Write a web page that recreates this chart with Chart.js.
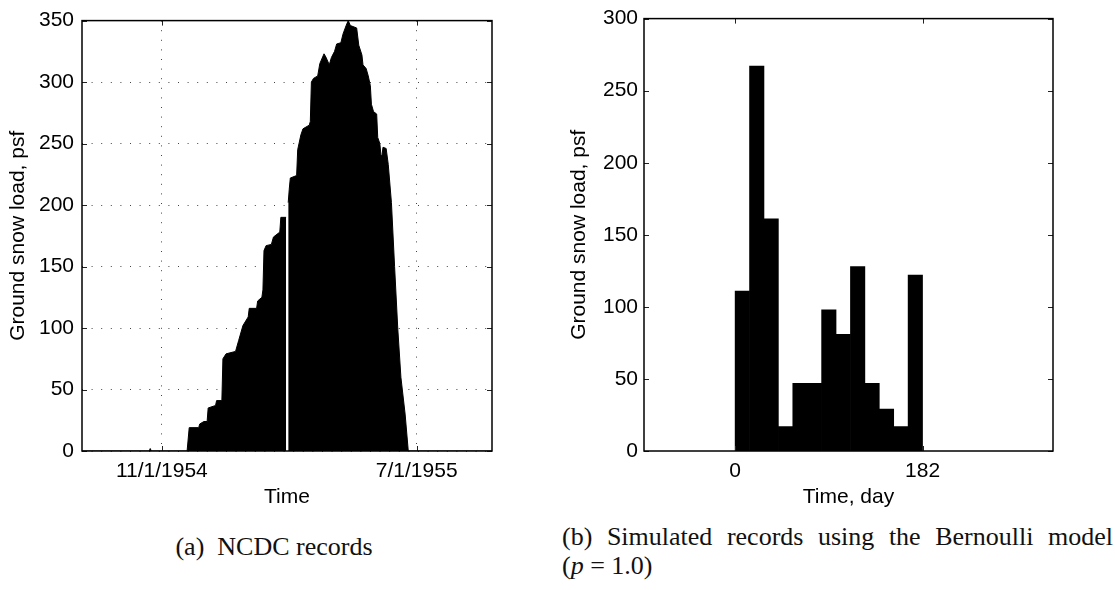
<!DOCTYPE html>
<html>
<head>
<meta charset="utf-8">
<script src="https://cdn.jsdelivr.net/npm/chart.js@4/dist/chart.umd.min.js"></script>
<style>
    body { margin: 0; background: #fff; }
    #page { position: relative; width: 1115px; height: 590px; overflow: hidden; }
    .box { position: absolute; top: 0; height: 515px; }
    .caption { position: absolute; font-family: "Liberation Serif", "Times New Roman", serif; font-size: 26px; color: #111; }
</style>
</head>
<body>
<div id="page">
    <div class="box" style="left:0; width:540px;"><canvas id="ncdcChart"></canvas></div>
    <div class="box" style="left:560px; width:555px;"><canvas id="simChart"></canvas></div>
    <div class="caption" style="left:0; width:548px; top:532px; line-height:30px; text-align:center;">(a)&nbsp; NCDC records</div>
    <div class="caption" style="left:562px; width:551px; top:522px; line-height:29px;">
        <div style="text-align:justify; text-align-last:justify;">(b) Simulated records using the Bernoulli model</div>
        <div>(<i>p</i> = 1.0)</div>
    </div>
</div>
<script>
// (a) NCDC records: day offsets from 11/1/1954 and ground snow load (psf)
const recordDays = [-76, -12, -11, -10, 24, 26, 35, 36, 40, 43, 44, 51, 52, 57, 58, 61, 70, 73, 77, 82, 83,
    90, 91, 95, 96, 97, 99, 104, 106, 112, 113, 118, 119, 120, 121, 122, 128, 129, 132, 134, 140, 141, 142,
    144, 148, 150, 154, 156, 157, 159, 161, 164, 166, 170, 172, 175, 177, 179, 185, 187, 190, 191, 194, 196,
    198, 199, 201, 204, 205, 207, 208, 209, 210, 213, 215, 218, 221, 224, 227, 231, 234, 314];
const recordLoads = [0, 0, 2, 0, 0, 19, 19, 22, 24, 24, 35, 37, 41, 41, 75, 79, 81, 90, 102, 109, 116,
    116, 122, 125, 131, 163, 167, 168, 174, 178, 190, 190, null, 202, 213, 222, 224, 245, 257, 262, 265, 268, 300,
    303, 305, 315, 323, 320, 318, 314, 320, 325, 331, 332, 339, 346, 350, 346, 344, 330, 322, 314, 311, 305,
    297, 282, 276, 274, 255, 250, 241, 240, 247, 246, 233, 202, 150, 100, 60, 30, 0, 0];
const dateTickDays = [0, 242];
const dateTickLabels = ['11/1/1954', '7/1/1955'];

// (b) simulated records, 14-day blocks (centre day) and load (psf)
const simDays = [7, 21, 35, 49, 63, 77, 91, 105, 119, 133, 147, 161, 175];
const simLoads = [111, 267, 161, 17, 47, 47, 98, 81, 128, 47, 29, 17, 122];
const dayTicks = [0, 182];

const sans = '"Liberation Sans", Arial, Helvetica, sans-serif';

// box around the plot plus MATLAB-style inward ticks
const framePlugin = {
    id: 'frame',
    afterDatasetsDraw(chart) {
        const { ctx, chartArea: a, scales: { x, y } } = chart;
        ctx.save();
        ctx.strokeStyle = '#222';
        ctx.lineWidth = 1;
        ctx.beginPath();
        y.ticks.forEach(t => {
            const py = Math.round(y.getPixelForValue(t.value)) + 0.5;
            ctx.moveTo(a.left, py); ctx.lineTo(a.left + 5, py);
            ctx.moveTo(a.right, py); ctx.lineTo(a.right - 5, py);
        });
        x.ticks.forEach(t => {
            const px = Math.round(x.getPixelForValue(t.value)) + 0.5;
            ctx.moveTo(px, a.top); ctx.lineTo(px, a.top + 5);
            ctx.moveTo(px, a.bottom); ctx.lineTo(px, a.bottom - 5);
        });
        ctx.stroke();
        ctx.strokeStyle = '#000';
        ctx.lineWidth = 1.5;
        ctx.strokeRect(a.left, a.top, a.right - a.left, a.bottom - a.top);
        ctx.restore();
    }
};

function yAxis(max, width, pad, titlePad, showGrid) {
    return {
        min: 0,
        max: max,
        afterFit: s => { s.width = width; },
        ticks: { stepSize: 50, padding: pad, color: '#000', font: { family: sans, size: 21 } },
        grid: { display: showGrid, drawTicks: false, color: '#444', lineWidth: 1 },
        border: { display: false, dash: [1, 8.6] },
        title: {
            display: true,
            text: 'Ground snow load, psf',
            color: '#000',
            font: { family: sans, size: 21 },
            padding: { top: titlePad, bottom: 0 }
        }
    };
}

function xAxis(min, max, tickValues, labels, titleText, showGrid) {
    return {
        type: 'linear',
        min: min,
        max: max,
        offset: false,
        afterFit: s => { s.height = 64; },
        afterBuildTicks: s => { s.ticks = tickValues.map(v => ({ value: v })); },
        ticks: {
            padding: 8,
            maxRotation: 0,
            autoSkip: false,
            color: '#000',
            font: { family: sans, size: 21 },
            callback: v => labels[tickValues.indexOf(v)]
        },
        grid: { display: showGrid, drawTicks: false, offset: false, color: '#444', lineWidth: 1 },
        border: { display: false, dash: [1, 8.6] },
        title: {
            display: true,
            text: titleText,
            color: '#000',
            font: { family: sans, size: 21 },
            padding: { top: 0, bottom: 5 }
        }
    };
}

document.addEventListener('DOMContentLoaded', function () {
    const ncdcConfig = {
        type: 'line',
        data: {
            datasets: [{
                data: recordDays.map((d, i) => ({ x: d, y: recordLoads[i] })),
                borderColor: '#000',
                borderWidth: 1,
                backgroundColor: '#000',
                fill: 'origin',
                pointRadius: 0,
                tension: 0,
                spanGaps: false
            }]
        },
        options: {
            responsive: true,
            maintainAspectRatio: false,
            animation: false,
            layout: { padding: { left: 0, top: 13, right: 48, bottom: 0 } },
            scales: {
                x: xAxis(-75.8, 313.5, dateTickDays, dateTickLabels, 'Time', true),
                y: yAxis(350, 82, 8, 6, true)
            },
            plugins: { legend: { display: false }, tooltip: { enabled: false } }
        },
        plugins: [framePlugin]
    };

    const simConfig = {
        type: 'bar',
        data: {
            datasets: [{
                data: simDays.map((d, i) => ({ x: d, y: simLoads[i] })),
                backgroundColor: '#000',
                borderWidth: 0,
                barPercentage: 1,
                categoryPercentage: 1
            }]
        },
        options: {
            responsive: true,
            maintainAspectRatio: false,
            animation: false,
            layout: { padding: { left: 0, top: 13, right: 62, bottom: 0 } },
            scales: {
                x: xAxis(-88.5, 308.7, dayTicks, dayTicks.map(String), 'Time, day', false),
                y: yAxis(300, 84, 6, 7, false)
            },
            plugins: { legend: { display: false }, tooltip: { enabled: false } }
        },
        plugins: [framePlugin]
    };

    new Chart(document.getElementById('ncdcChart'), ncdcConfig);
    new Chart(document.getElementById('simChart'), simConfig);
});
</script>
</body>
</html>
